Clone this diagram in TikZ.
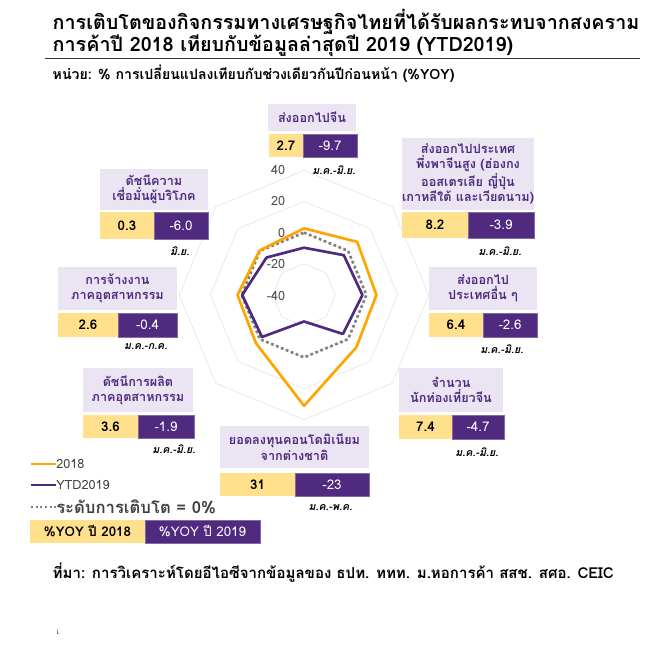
\documentclass[tikz,border=0pt]{standalone}
\usepackage{fontspec}
\setmainfont{Loma}
\newfontfamily\thaifont[Script=Thai]{Loma}
\usetikzlibrary{positioning,fit,calc}
\definecolor{eicpurple}{HTML}{4F2A7F}
\definecolor{eiclav}{HTML}{EAE4F3}
\definecolor{eicyellow}{HTML}{FFE08C}
\definecolor{eicorange}{HTML}{FFA500}
\definecolor{gridgray}{HTML}{E0E0E0}
\tikzset{
  catbox/.style={fill=eiclav,inner sep=0pt,text=eicpurple,font=\thaifont\bfseries\fontsize{9.5}{11.5}\selectfont,align=center},
  valA/.style={fill=eicyellow,inner sep=0pt,font=\thaifont\bfseries\fontsize{10}{12}\selectfont},
  valB/.style={fill=eicpurple,draw=eicpurple!70,inner sep=0pt,text=white,font=\thaifont\fontsize{10}{12}\selectfont},
  period/.style={anchor=east,font=\thaifont\bfseries\itshape\fontsize{8}{10}\selectfont},
  ticklbl/.style={anchor=east,text=black!70,font=\thaifont\fontsize{9.5}{10}\selectfont},
}
\begin{document}
\begin{tikzpicture}[x=0.75pt,y=-0.75pt]
  \useasboundingbox (0,0) rectangle (644,649);
  % title
  \node[anchor=west,font=\thaifont\bfseries\fontsize{14.8}{16.5}\selectfont,align=left] (title) at (48,33)
    {การเติบโตของกิจกรรมทางเศรษฐกิจไทยที่ได้รับผลกระทบจากสงคราม\\การค้าปี 2018 เทียบกับข้อมูลล่าสุดปี 2019 (YTD2019)};
  \draw[black!80] (45,58) -- (640,58);
  \node[anchor=west,font=\thaifont\bfseries\fontsize{10.6}{12}\selectfont] (unit) at (48,74)
    {หน่วย: \% การเปลี่ยนแปลงเทียบกับช่วงเดียวกันปีก่อนหน้า  (\%YOY)};

  % radar grid
  \coordinate (O) at (304,295);
  \begin{scope}[shift={(O)}]
    \foreach \r in {124.8,93.6,62.4,31.2}{
      \draw[gridgray] (-90:\r) -- (-45:\r) -- (0:\r) -- (45:\r) -- (90:\r) -- (135:\r) -- (180:\r) -- (225:\r) -- cycle;
    }
    % series
    \draw[gray,dotted,line width=2pt] (-90:62.4) -- (-45:62.4) -- (0:62.4) -- (45:62.4) -- (90:62.4) -- (135:62.4) -- (180:62.4) -- (225:62.4) -- cycle;
    \draw[eicorange,line width=2pt,line join=round]
      (-90:66.6) -- (-45:75.2) -- (0:72.4) -- (45:74.0) -- (90:110.8) -- (135:68.0) -- (180:66.5) -- (225:62.9) -- cycle;
    \draw[eicpurple,line width=2pt,line join=round]
      (-90:47.3) -- (-45:56.3) -- (0:58.4) -- (45:55.1) -- (90:26.5) -- (135:59.4) -- (180:61.8) -- (225:53.0) -- cycle;
  \end{scope}
  \node[ticklbl] (t40) at (290,170) {40};
  \node[ticklbl] (t20) at (290,201) {20};
  \node[ticklbl] (t0) at (290,233) {0};
  \node[ticklbl] (tm20) at (290,264) {-20};
  \node[ticklbl] (tm40) at (290,296) {-40};

  % top: china exports
  \node[catbox,fit={(268,104) (356,131)}] (china) {};
  \node[catbox,fill=none] at (china.center) {ส่งออกไปจีน};
  \node[valA,fit={(269,134) (303,157)}] (chinaA) {};
  \node at (chinaA.center) [font=\thaifont\bfseries\fontsize{10}{12}\selectfont] {2.7};
  \node[valB,fit={(303,134) (357,157)}] (chinaB) {};
  \node at (chinaB.center) [text=white,font=\thaifont\fontsize{10}{12}\selectfont] {-9.7};
  \node[period] (chinaP) at (360,170) {ม.ค.-มิ.ย.};

  % NE: china dependent
  \node[catbox,fit={(402,138) (534,210)}] (dep) {};
  \node[catbox,fill=none] at (dep.center) {ส่งออกไปประเทศ\\พึ่งพาจีนสูง (ฮ่องกง\\ออสเตรเลีย ญี่ปุ่น\\เกาหลีใต้ และเวียดนาม)};
  \node[valA,fit={(402,212) (468,238)}] (depA) {};
  \node at (depA.center) [font=\thaifont\bfseries\fontsize{10}{12}\selectfont] {8.2};
  \node[valB,fit={(468,212) (534,238)}] (depB) {};
  \node at (depB.center) [text=white,font=\thaifont\fontsize{10}{12}\selectfont] {-3.9};
  \node[period] (depP) at (526,251) {ม.ค.-มิ.ย.};

  % E: other countries
  \node[catbox,fit={(429,267) (537,310)}] (oth) {};
  \node[catbox,fill=none] at (oth.center) {ส่งออกไป\\ประเทศอื่น ๆ};
  \node[valA,fit={(429,313) (483,337)}] (othA) {};
  \node at (othA.center) [font=\thaifont\bfseries\fontsize{10}{12}\selectfont] {6.4};
  \node[valB,fit={(483,313) (537,337)}] (othB) {};
  \node at (othB.center) [text=white,font=\thaifont\fontsize{10}{12}\selectfont] {-2.6};
  \node[period] (othP) at (528,349) {ม.ค.-มิ.ย.};

  % SE: chinese tourists
  \node[catbox,fit={(399,368) (503,412)}] (tour) {};
  \node[catbox,fill=none] at (tour.center) {จำนวน\\นักท่องเที่ยวจีน};
  \node[valA,fit={(399,415) (452,439)}] (tourA) {};
  \node at (tourA.center) [font=\thaifont\bfseries\fontsize{10}{12}\selectfont] {7.4};
  \node[valB,fit={(452,415) (504,439)}] (tourB) {};
  \node at (tourB.center) [text=white,font=\thaifont\fontsize{10}{12}\selectfont] {-4.7};
  \node[period] (tourP) at (503,452) {ม.ค.-มิ.ย.};

  % S: foreign condo investment
  \node[catbox,fit={(220,426) (369,468)}] (condo) {};
  \node[catbox,fill=none] at (condo.center) {ยอดลงทุนคอนโดมิเนียม\\จากต่างชาติ};
  \node[valA,fit={(220,473) (295,496)}] (condoA) {};
  \node at (condoA.center) [font=\thaifont\bfseries\fontsize{10}{12}\selectfont] {31};
  \node[valB,fit={(295,473) (369,496)}] (condoB) {};
  \node at (condoB.center) [text=white,font=\thaifont\fontsize{10}{12}\selectfont] {-23};
  \node[period] (condoP) at (357,508) {ม.ค.-พ.ค.};

  % SW: industrial production
  \node[catbox,fit={(83,368) (193,412)}] (prod) {};
  \node[catbox,fill=none] at (prod.center) {ดัชนีการผลิต\\ภาคอุตสาหกรรม};
  \node[valA,fit={(83,415) (138,438)}] (prodA) {};
  \node at (prodA.center) [font=\thaifont\bfseries\fontsize{10}{12}\selectfont] {3.6};
  \node[valB,fit={(138,415) (194,438)}] (prodB) {};
  \node at (prodB.center) [text=white,font=\thaifont\fontsize{10}{12}\selectfont] {-1.9};
  \node[period] (prodP) at (200,449) {ม.ค.-มิ.ย.};

  % W: industrial employment
  \node[catbox,fit={(58,267) (177,310)}] (emp) {};
  \node[catbox,fill=none] at (emp.center) {การจ้างงาน\\ภาคอุตสาหกรรม};
  \node[valA,fit={(58,313) (118,337)}] (empA) {};
  \node at (empA.center) [font=\thaifont\bfseries\fontsize{10}{12}\selectfont] {2.6};
  \node[valB,fit={(118,313) (177,337)}] (empB) {};
  \node at (empB.center) [text=white,font=\thaifont\fontsize{10}{12}\selectfont] {-0.4};
  \node[period] (empP) at (172,347) {ม.ค.-ก.ค.};

  % NW: consumer confidence
  \node[catbox,fit={(100,169) (208,210)}] (conf) {};
  \node[catbox,fill=none] at (conf.center) {ดัชนีความ\\เชื่อมั่นผู้บริโภค};
  \node[valA,fit={(100,212) (154,239)}] (confA) {};
  \node at (confA.center) [font=\thaifont\bfseries\fontsize{10}{12}\selectfont] {0.3};
  \node[valB,fit={(154,212) (208,239)}] (confB) {};
  \node at (confB.center) [text=white,font=\thaifont\fontsize{10}{12}\selectfont] {-6.0};
  \node[period] (confP) at (194,251) {มิ.ย.};

  % legend
  \coordinate (l1) at (31,464); \coordinate (l1e) at (56,464);
  \coordinate (l2) at (31,485); \coordinate (l2e) at (56,485);
  \coordinate (l3) at (31,507); \coordinate (l3e) at (56,507);
  \draw[eicorange,line width=1.5pt] (l1) -- (l1e);
  \draw[eicpurple,line width=1.5pt] (l2) -- (l2e);
  \draw[gray,dotted,line width=1.5pt] (l3) -- (l3e);
  \node[anchor=west,inner sep=0pt,text=black!75,font=\thaifont\fontsize{9.5}{10}\selectfont] (leg1) at (l1e) {2018};
  \node[anchor=west,inner sep=0pt,text=black!75,font=\thaifont\fontsize{9.5}{10}\selectfont] (leg2) at (l2e) {YTD2019};
  \node[anchor=west,inner sep=0pt,text=black!75,font=\thaifont\bfseries\fontsize{12.5}{13}\selectfont] (leg3) at (l3e) {ระดับการเติบโต = 0\%};
  \node[valA,fit={(30,520) (145,543)}] (yA) {};
  \node at (yA.center) [font=\thaifont\bfseries\fontsize{10}{12}\selectfont] {\%YOY ปี 2018};
  \node[valB,fit={(145,520) (260,543)}] (yB) {};
  \node at (yB.center) [text=white,font=\thaifont\fontsize{10}{12}\selectfont] {\%YOY ปี 2019};

  % source
  \node[anchor=west,font=\thaifont\bfseries\fontsize{11.3}{13}\selectfont] (src) at (48,573)
    {ที่มา: การวิเคราะห์โดยอีไอซีจากข้อมูลของ ธปท. ททท. ม.หอการค้า สสช. สศอ. CEIC};
  \node[anchor=west,font=\thaifont\fontsize{5}{6}\selectfont] (mark) at (52,632) {i.};
\end{tikzpicture}
\end{document}
